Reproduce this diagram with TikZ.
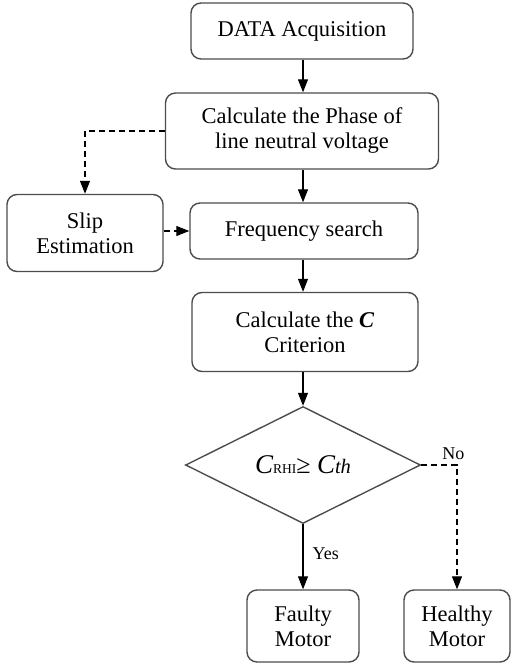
\documentclass[tikz,border=0pt]{standalone}
\usepackage{fontspec}
\setmainfont{Liberation Serif}
\usetikzlibrary{arrows.meta,shapes.geometric}
\begin{document}
\begin{tikzpicture}[x=1pt,y=-1pt,
  box/.style={draw=black!70,line width=1.4pt,rounded corners=10pt,align=center,
    inner sep=0pt,font=\fontsize{22.5}{25}\selectfont},
  arr/.style={draw=black,line width=1.2pt,-{Triangle[width=10pt,length=13pt]}},
  darr/.style={arr,dash pattern=on 6pt off 4pt},
  lab/.style={font=\fontsize{18}{20}\selectfont,inner sep=0pt}]
\useasboundingbox (0,0) rectangle (511,666);
\node[box,minimum width=222pt,minimum height=56pt] (data) at (302,31) {DATA Acquisition};
\node[box,minimum width=273pt,minimum height=76pt] (calc) at (302,131) {Calculate the Phase of\\line neutral voltage};
\node[box,minimum width=156pt,minimum height=77pt] (slip) at (85,233) {Slip\\Estimation};
\node[box,minimum width=228pt,minimum height=56pt] (freq) at (304,231) {Frequency search};
\node[box,minimum width=226pt,minimum height=79pt] (calcc) at (305,332) {Calculate the \textbf{\textit{C}}\\Criterion};
\node[diamond,draw=black!70,line width=1.4pt,minimum width=235pt,minimum height=117pt,inner sep=0pt] (dec) at (303,465)
  {{\fontsize{27}{27}\selectfont\itshape C}{\fontsize{13.5}{13}\selectfont RHI}{\fontsize{26}{26}\selectfont ≥ }{\fontsize{27}{27}\selectfont\itshape C}{\fontsize{20.5}{20}\selectfont\itshape th}};
\node[box,minimum width=112pt,minimum height=72pt] (faulty) at (303,626) {Faulty\\Motor};
\node[box,minimum width=106pt,minimum height=72pt] (healthy) at (457,626) {Healthy\\Motor};
\coordinate (c1) at (303,0);
\draw[arr] (data.south -| c1) -- (calc.north -| c1);
\draw[arr] (calc.south -| c1) -- (freq.north -| c1);
\draw[arr] (freq.south -| c1) -- (calcc.north -| c1);
\draw[arr] (calcc.south -| c1) -- (dec.north);
\draw[arr] (dec.south) -- node[lab,right=9pt,pos=0.45] {Yes} (faulty.north);
\draw[darr] (calc.west) -| (slip.north);
\draw[darr] (slip.east |- freq.west) -- (freq.west);
\draw[darr] (dec.east) -| node[lab,above=5pt,pos=0.45] {No} (healthy.north);
\end{tikzpicture}
\end{document}
